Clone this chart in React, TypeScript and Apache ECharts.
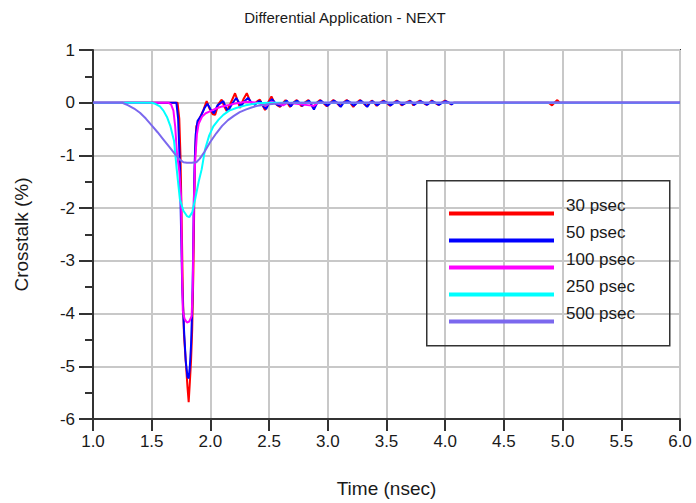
import React, { useEffect, useRef } from 'react';
import * as echarts from 'echarts';

// Near-end crosstalk waveforms for five driver rise times: [time (ns), crosstalk (%)]
const seriesNames = ['30 psec', '50 psec', '100 psec', '250 psec', '500 psec'];
const seriesColors = ['#ff0000', '#0000ff', '#ff00ff', '#00ffff', '#7b68ee'];

const psec30: number[][] = [
  [1.0, 0], [1.72, 0], [1.735, -0.3], [1.745, -1.0], [1.755, -2.2], [1.765, -3.6], [1.775, -4.4],
  [1.79, -4.9], [1.805, -5.4], [1.815, -5.68], [1.825, -5.3], [1.835, -4.9], [1.845, -4.3],
  [1.855, -3.2], [1.862, -2.0], [1.87, -1.0], [1.88, -0.45], [1.91, -0.29], [1.94, -0.14],
  [1.968, 0.03], [1.99, -0.1], [2.02, -0.22], [2.04, -0.23], [2.07, -0.02], [2.096, 0.06],
  [2.12, -0.08], [2.14, -0.16], [2.17, -0.02], [2.21, 0.18], [2.235, 0.02], [2.252, -0.1],
  [2.28, 0.06], [2.31, 0.18], [2.34, 0.02], [2.37, -0.03], [2.4, 0.03], [2.422, 0.06],
  [2.445, -0.05], [2.465, -0.14], [2.49, 0.0], [2.52, 0.12], [2.545, 0.0], [2.565, -0.04],
  [2.593, -0.08], [2.62, 0.0], [2.64, 0.05], [2.678, -0.08], [2.705, 0.0], [2.735, 0.05],
  [2.777, -0.07], [2.8, 0.0], [2.834, 0.05], [2.877, -0.1], [2.905, 0.0], [2.934, 0.05],
  [2.96, 0.0], [2.991, -0.07], [3.02, 0.0], [3.047, 0.05], [3.075, 0.0], [3.104, -0.07],
  [3.13, 0.0], [3.161, 0.05], [3.19, 0.0], [3.217, -0.08], [3.245, 0.0], [3.274, 0.05],
  [3.3, 0.0], [3.331, -0.07], [3.355, 0.0], [3.374, 0.04], [3.395, 0.0], [3.416, -0.06],
  [3.445, 0.0], [3.473, 0.04], [3.5, 0.0], [3.53, -0.06], [3.56, 0.0], [3.587, 0.04],
  [3.61, 0.0], [3.629, -0.05], [3.665, 0.0], [3.7, 0.04], [3.715, 0.0], [3.729, -0.05],
  [3.755, 0.0], [3.785, 0.04], [3.81, 0.0], [3.842, -0.04], [3.865, 0.0], [3.885, 0.04],
  [3.91, 0.0], [3.942, -0.04], [3.97, 0.0], [3.998, 0.04], [4.03, 0.0], [4.05, -0.03],
  [4.07, 0.0], [4.88, 0], [4.91, -0.05], [4.93, 0.0], [4.955, 0.05], [4.975, 0.0], [6.0, 0],
];

const psec50: number[][] = [
  [1.0, 0], [1.71, 0], [1.725, -0.3], [1.74, -1.2], [1.75, -2.4], [1.76, -3.5], [1.775, -4.3],
  [1.79, -4.9], [1.805, -5.2], [1.815, -5.23], [1.825, -5.0], [1.835, -4.6], [1.845, -3.9],
  [1.852, -3.0], [1.858, -2.0], [1.865, -1.2], [1.875, -0.6], [1.89, -0.35], [1.92, -0.25],
  [1.95, -0.1], [1.975, -0.02], [2.0, -0.12], [2.03, -0.2], [2.06, -0.05], [2.11, 0.03],
  [2.13, -0.08], [2.15, -0.16], [2.185, -0.02], [2.22, 0.09], [2.245, 0.0], [2.26, -0.07],
  [2.29, 0.03], [2.32, 0.09], [2.35, 0.0], [2.38, -0.04], [2.41, 0.03], [2.43, 0.02],
  [2.455, -0.08], [2.475, -0.12], [2.5, 0.0], [2.525, 0.07], [2.55, 0.0], [2.575, -0.05],
  [2.6, -0.06], [2.625, 0.0], [2.65, 0.04], [2.685, -0.07], [2.71, 0.0], [2.74, 0.04],
  [2.785, -0.06], [2.81, 0.0], [2.84, 0.04], [2.882, -0.13], [2.91, 0.0], [2.94, 0.04],
  [2.965, 0.0], [2.998, -0.06], [3.025, 0.0], [3.052, 0.04], [3.08, 0.0], [3.11, -0.08],
  [3.135, 0.0], [3.166, 0.04], [3.195, 0.0], [3.222, -0.06], [3.25, 0.0], [3.28, 0.04],
  [3.305, 0.0], [3.336, -0.08], [3.36, 0.0], [3.38, 0.03], [3.4, 0.0], [3.42, -0.05],
  [3.45, 0.0], [3.478, 0.03], [3.505, 0.0], [3.535, -0.05], [3.565, 0.0], [3.592, 0.03],
  [3.615, 0.0], [3.634, -0.04], [3.67, 0.0], [3.705, 0.03], [3.72, 0.0], [3.735, -0.04],
  [3.76, 0.0], [3.79, 0.03], [3.815, 0.0], [3.847, -0.04], [3.87, 0.0], [3.89, 0.03],
  [3.915, 0.0], [3.947, -0.04], [3.975, 0.0], [4.003, 0.03], [4.035, 0.0], [4.055, -0.03],
  [4.075, 0.0], [6.0, 0],
];

const psec100: number[][] = [
  [1.0, 0], [1.64, 0], [1.665, -0.03], [1.685, -0.15], [1.7, -0.45], [1.715, -0.95],
  [1.735, -1.3], [1.75, -1.8], [1.755, -2.6], [1.76, -3.4], [1.765, -3.95], [1.78, -4.1],
  [1.8, -4.17], [1.82, -4.15], [1.84, -4.05], [1.85, -3.5], [1.855, -2.6], [1.86, -1.8],
  [1.87, -1.1], [1.885, -0.6], [1.9, -0.4], [1.93, -0.26], [1.96, -0.2], [2.0, -0.16],
  [2.05, -0.11], [2.1, -0.07], [2.15, -0.05], [2.2, -0.02], [2.3, 0.02], [2.4, 0.0],
  [2.47, -0.06], [2.52, 0.02], [2.62, -0.05], [2.66, 0.0], [2.88, -0.06], [2.92, 0.0], [6.0, 0],
];

const psec250: number[][] = [
  [1.0, 0], [1.5, 0], [1.53, -0.02], [1.57, -0.07], [1.6, -0.15], [1.63, -0.27], [1.66, -0.45],
  [1.69, -0.72], [1.713, -1.26], [1.74, -1.83], [1.77, -2.05], [1.8, -2.15], [1.82, -2.17],
  [1.845, -2.08], [1.87, -1.83], [1.9, -1.5], [1.926, -1.26], [1.954, -0.89], [1.99, -0.62],
  [2.025, -0.45], [2.07, -0.32], [2.11, -0.23], [2.16, -0.15], [2.22, -0.1], [2.3, -0.05],
  [2.4, -0.01], [2.5, 0], [6.0, 0],
];

const psec500: number[][] = [
  [1.0, 0], [1.25, 0], [1.3, -0.05], [1.35, -0.11], [1.4, -0.19], [1.45, -0.3], [1.5, -0.43],
  [1.55, -0.56], [1.6, -0.7], [1.65, -0.84], [1.7, -0.98], [1.74, -1.08], [1.77, -1.13],
  [1.8, -1.14], [1.84, -1.14], [1.88, -1.13], [1.91, -1.06], [1.95, -0.93], [2.0, -0.74],
  [2.05, -0.58], [2.1, -0.44], [2.15, -0.33], [2.2, -0.25], [2.25, -0.18], [2.3, -0.13],
  [2.35, -0.09], [2.4, -0.06], [2.5, -0.03], [2.6, -0.01], [2.75, 0], [6.0, 0],
];

const seriesData = [psec30, psec50, psec100, psec250, psec500];

// Axis ranges and tick spacing
const xRange = [1.0, 6.0];
const xStep = 0.5;
const yRange = [-6, 1];
const yStep = 1;

const FONT = "'Liberation Sans', Arial, Helvetica, sans-serif";
const INK = '#1a1a1a';

export default function App() {
  const ref = useRef<HTMLDivElement>(null);

  useEffect(() => {
    if (!ref.current) return;
    const chart = echarts.init(ref.current, undefined, { renderer: 'svg' });

    const option: echarts.EChartsOption = {
      animation: false,
      backgroundColor: '#ffffff',
      title: {
        text: 'Differential Application - NEXT',
        left: 340,
        top: 5,
        textAlign: 'center',
        textStyle: { fontFamily: FONT, fontSize: 15, fontWeight: 'normal', color: INK },
      },
      grid: {
        left: 93,
        right: 16,
        top: 50,
        bottom: 83,
        show: true,
        borderColor: '#333',
        borderWidth: 2,
        backgroundColor: 'transparent',
      },
      legend: {
        orient: 'vertical',
        left: 449,
        top: 197,
        padding: 0,
        itemWidth: 105,
        itemHeight: 4,
        itemGap: 8.5,
        icon: 'rect',
        selectedMode: false,
        data: seriesNames,
        formatter: '{t|{name}}',
        textStyle: {
          fontFamily: FONT,
          fontSize: 17,
          color: INK,
          rich: {
            t: {
              fontFamily: FONT,
              fontSize: 17,
              color: INK,
              padding: [0, 0, 16, 7],
            },
          },
        },
      },
      graphic: [
        {
          type: 'rect',
          left: 426,
          top: 180,
          shape: { width: 243, height: 165 },
          style: { fill: 'transparent', stroke: '#333', lineWidth: 1.5 },
          z: 10,
        },
      ],
      xAxis: {
        type: 'value',
        min: xRange[0],
        max: xRange[1],
        interval: xStep,
        name: 'Time (nsec)',
        nameLocation: 'middle',
        nameGap: 60,
        nameTextStyle: { fontFamily: FONT, fontSize: 19, color: INK },
        axisLine: { onZero: false, lineStyle: { color: '#333', width: 2 } },
        axisTick: { show: true, length: 12, lineStyle: { color: '#333', width: 2 } },
        axisLabel: {
          fontFamily: FONT,
          fontSize: 17,
          color: INK,
          margin: 14,
          formatter: (v: number) => v.toFixed(1),
        },
        splitLine: { show: true, lineStyle: { color: '#c8c8c8', width: 2 } },
      },
      yAxis: {
        type: 'value',
        min: yRange[0],
        max: yRange[1],
        interval: yStep,
        name: 'Crosstalk (%)',
        nameLocation: 'middle',
        nameGap: 62,
        nameTextStyle: { fontFamily: FONT, fontSize: 19, color: INK },
        axisLine: { show: true, onZero: false, lineStyle: { color: '#333', width: 2 } },
        axisTick: { show: true, length: 14, lineStyle: { color: '#333', width: 2 } },
        minorTick: { show: true, splitNumber: 2, length: 8, lineStyle: { color: '#333', width: 2 } },
        axisLabel: { fontFamily: FONT, fontSize: 17, color: INK, margin: 18 },
        splitLine: { show: true, lineStyle: { color: '#c8c8c8', width: 2 } },
      },
      series: seriesNames.map((name, i) => ({
        name,
        type: 'line',
        data: seriesData[i],
        showSymbol: false,
        symbol: 'none',
        color: seriesColors[i],
        lineStyle: { color: seriesColors[i], width: 2 },
        z: 2 + i,
      })),
    };

    chart.setOption(option);
    return () => chart.dispose();
  }, []);

  return (
    <div
      ref={ref}
      style={{ position: 'fixed', left: 0, top: 0, width: 696, height: 503, background: '#fff' }}
    />
  );
}
